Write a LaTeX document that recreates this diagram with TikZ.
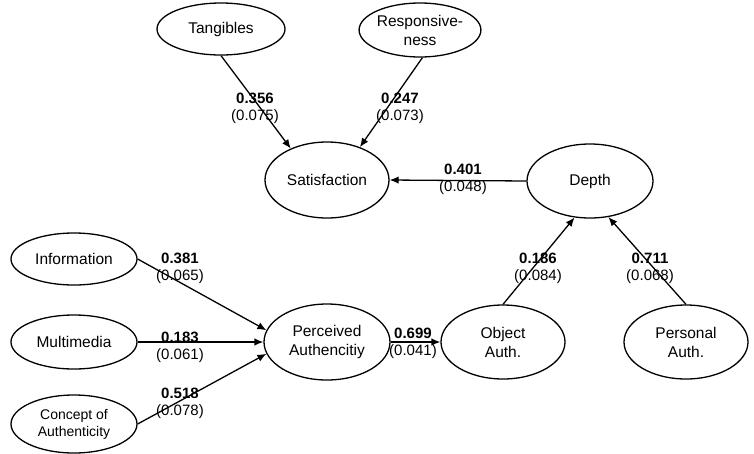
\documentclass[tikz,border=0pt]{standalone}
\usepackage{fontspec}
\setmainfont{Liberation Sans}
\usetikzlibrary{shapes.geometric,arrows.meta}
\begin{document}
\begin{tikzpicture}[x=1pt,y=-1pt,
  construct/.style={ellipse,draw,line width=1.3pt,inner sep=0pt,align=center,
    font=\fontsize{15.5}{19}\selectfont},
  path/.style={line width=1.3pt,-{Latex[length=9pt,width=7.5pt]}},
  coef/.style={align=center,inner sep=0pt,font=\fontsize{15}{17}\selectfont}]
\useasboundingbox (0,0) rectangle (754,453);

% constructs
\node[construct,minimum width=128pt,minimum height=52pt] (tang) at (221,29) {Tangibles};
\node[construct,minimum width=114pt,minimum height=54pt] (resp) at (420,30) {Responsive-\\ness};
\node[construct,minimum width=124pt,minimum height=76pt] (sat) at (327,180) {Satisfaction};
\node[construct,minimum width=126pt,minimum height=74pt] (depth) at (590,181) {Depth};
\node[construct,minimum width=126pt,minimum height=52pt] (info) at (74,259) {Information};
\node[construct,minimum width=126pt,minimum height=54pt] (mm) at (74,342) {Multimedia};
\node[construct,minimum width=126pt,minimum height=58pt,
  font=\fontsize{14}{17}\selectfont] (conc) at (74,424) {Concept of\\Authenticity};
\node[construct,minimum width=126pt,minimum height=76pt] (perc) at (327,342) {Perceived\\Authencitiy};
\node[construct,minimum width=124pt,minimum height=74pt] (obj) at (503,342) {Object\\Auth.};
\node[construct,minimum width=124pt,minimum height=74pt] (pers) at (686,342) {Personal\\Auth.};

% structural paths
\draw[path] (tang.south) -- (sat.139);
\draw[path] (resp.-85) -- (sat.45);
\draw[path] (depth.west) -- (sat.east);
\draw[path] (obj.north) -- (depth.247);
\draw[path] (pers.north) -- (depth.297);
\draw[path] (perc.east) -- (obj.west);
\draw[path] (info.east) -- (perc.169);
\draw[path] (mm.east) -- (perc.west);
\draw[path] (conc.east) -- (perc.191);

% path coefficients (standard errors)
\node[coef] (c1) at (255,108) {\textbf{0.356}\\(0.075)};
\node[coef] (c2) at (400,108) {\textbf{0.247}\\(0.073)};
\node[coef] (c3) at (463,179) {\textbf{0.401}\\(0.048)};
\node[coef] (c4) at (538,268) {\textbf{0.186}\\(0.084)};
\node[coef] (c5) at (650,268) {\textbf{0.711}\\(0.068)};
\node[coef] (c6) at (413,343) {\textbf{0.699}\\(0.041)};
\node[coef] (c7) at (180,268) {\textbf{0.381}\\(0.065)};
\node[coef] (c8) at (180,347) {\textbf{0.183}\\(0.061)};
\node[coef] (c9) at (180,403) {\textbf{0.518}\\(0.078)};
\end{tikzpicture}
\end{document}
